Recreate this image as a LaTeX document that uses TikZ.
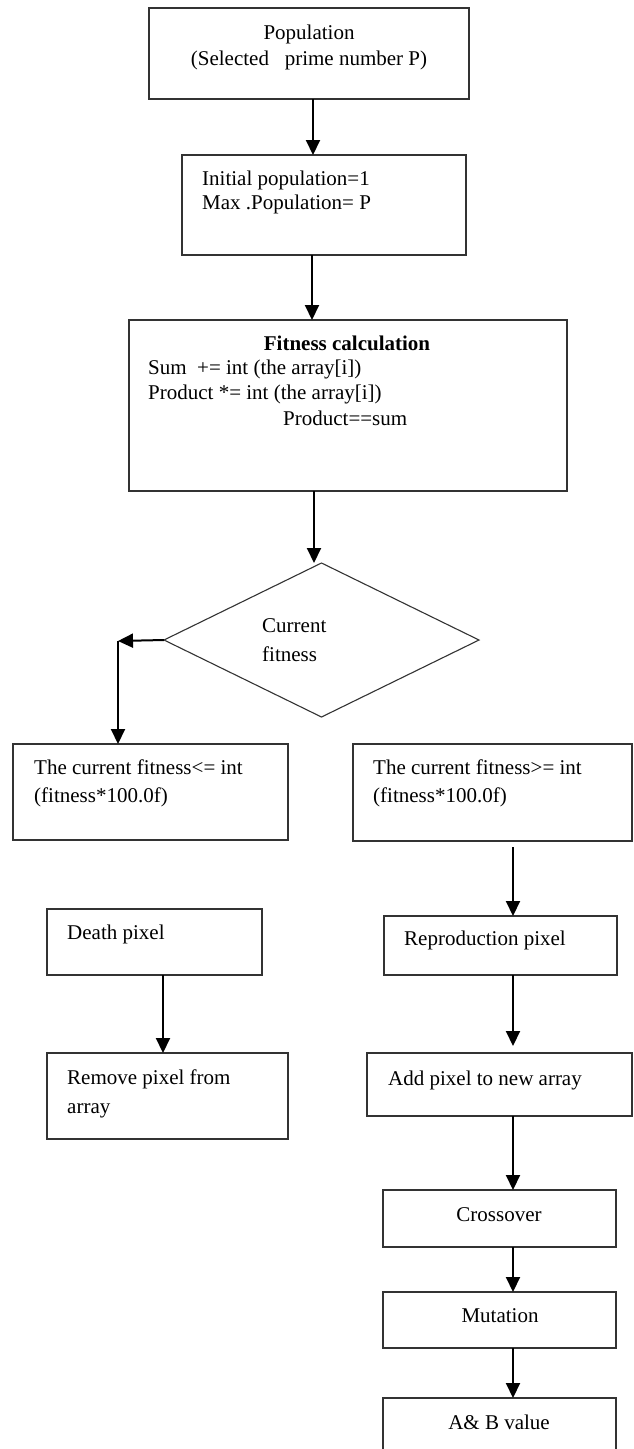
\documentclass[tikz,border=0pt]{standalone}
\usepackage{fontspec}
\setmainfont{Liberation Serif}
\usetikzlibrary{shapes.geometric,arrows.meta}
\begin{document}
\begin{tikzpicture}[x=1pt,y=-1pt,
  box/.style={draw=black!80,line width=1.3pt,inner sep=0pt,outer sep=0pt,anchor=north west},
  lbl/.style={anchor=base west,inner sep=0pt,font=\fontsize{21}{26}\selectfont},
  clbl/.style={anchor=base,inner sep=0pt,font=\fontsize{21}{26}\selectfont},
  arr/.style={line width=2pt,-{Triangle[width=14pt,length=15pt]}}]
\useasboundingbox[fill=white] (0,0) rectangle (634,1449);
\clip (0,0) rectangle (634,1449);

% boxes
\node[box,minimum width=320pt,minimum height=91pt] (b1) at (149,8) {};
\node[box,minimum width=284pt,minimum height=100pt] (b2) at (182,155) {};
\node[box,minimum width=438pt,minimum height=171pt] (b3) at (129,320) {};
\node[draw=black!80,line width=1.1pt,diamond,aspect=2.045,minimum width=315pt,minimum height=154pt,inner sep=0pt,outer sep=0pt] (dia) at (321.5,640) {};
\node[box,minimum width=275pt,minimum height=96pt] (b4) at (13,744) {};
\node[box,minimum width=279pt,minimum height=97pt] (b5) at (353,744) {};
\node[box,minimum width=215pt,minimum height=66pt] (death) at (47,909) {};
\node[box,minimum width=233pt,minimum height=59pt] (repro) at (384,916) {};
\node[box,minimum width=241pt,minimum height=86pt] (remove) at (47,1053) {};
\node[box,minimum width=265pt,minimum height=63pt] (add) at (367,1053) {};
\node[box,minimum width=233pt,minimum height=57pt] (cross) at (383,1190) {};
\node[box,minimum width=233pt,minimum height=56pt] (mut) at (383,1292) {};
\node[box,minimum width=233pt,minimum height=90pt] (ab) at (383,1398) {};

% texts
\node[clbl] (t1a) at (309,39) {Population};
\node[clbl] (t1b) at (309,65) {(Selected\ \ \ prime number P)};
\node[lbl] (t2a) at (202,185) {Initial population=1};
\node[lbl] (t2b) at (202,209) {Max .Population= P};
\node[clbl] (t3a) at (347,350) {\bfseries Fitness calculation};
\node[lbl] (t3b) at (148,374) {Sum\ \ += int (the array[i])};
\node[lbl] (t3c) at (148,399) {Product *= int (the array[i])};
\node[lbl] (t3d) at (283,425) {Product==sum};
\node[lbl] (tda) at (262,632) {Current};
\node[lbl] (tdb) at (262,661) {fitness};
\node[lbl] (t4a) at (34,774) {The current fitness<= int};
\node[lbl] (t4b) at (34,802) {(fitness*100.0f)};
\node[lbl] (t5a) at (373,774) {The current fitness>= int};
\node[lbl] (t5b) at (373,802) {(fitness*100.0f)};
\node[lbl] (tde) at (67,939) {Death pixel};
\node[lbl] (tre) at (404,945) {Reproduction pixel};
\node[lbl] (trma) at (67,1084) {Remove pixel from};
\node[lbl] (trmb) at (67,1113) {array};
\node[lbl] (tad) at (388,1085) {Add pixel to new array};
\node[clbl] (tcr) at (499,1221) {Crossover};
\node[clbl] (tmu) at (500,1322) {Mutation};
\node[clbl] (tab) at (499,1429) {A\& B value};

% connector columns
\coordinate (x1) at (313,0);
\coordinate (x2) at (312,0);
\coordinate (x3) at (314,0);
\coordinate (corner) at (118,641);
\coordinate (xl) at (163,0);
\coordinate (xr) at (513,0);

\draw[arr] (b1.south -| x1) -- (b2.north -| x1);
\draw[arr] (b2.south -| x2) -- (b3.north -| x2);
\draw[arr] (b3.south -| x3) -- (dia.north -| x3);
\draw[arr] (dia.west) -- (corner);
\draw[arr] (corner) -- (b4.north -| corner);
\draw[arr,shorten <=6pt] (b5.south -| xr) -- (repro.north -| xr);
\draw[arr] (death.south -| xl) -- (remove.north -| xl);
\draw[arr,shorten >=7pt] (repro.south -| xr) -- (add.north -| xr);
\draw[arr] (add.south -| xr) -- (cross.north -| xr);
\draw[arr] (cross.south -| xr) -- (mut.north -| xr);
\draw[arr] (mut.south -| xr) -- (ab.north -| xr);
\end{tikzpicture}
\end{document}
